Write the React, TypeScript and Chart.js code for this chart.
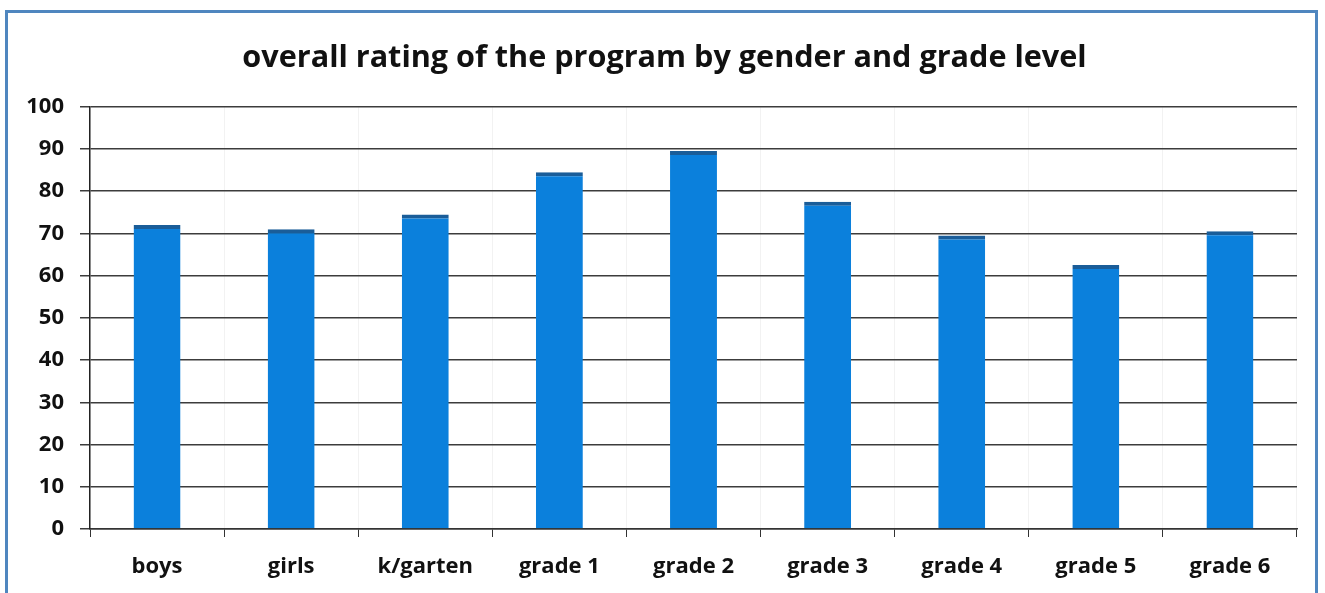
import React, { useEffect, useRef } from "react";
import { Chart, registerables } from "chart.js";

Chart.register(...registerables);

const categories = ["boys", "girls", "k/garten", "grade 1", "grade 2", "grade 3", "grade 4", "grade 5", "grade 6"];
const ratings = [72, 71, 74.5, 84.5, 89.5, 77.5, 69.5, 62.5, 70.5];
const yTicks = [0, 10, 20, 30, 40, 50, 60, 70, 80, 90, 100];
const chartTitle = "overall rating of the program by gender and grade level";

const FONT = "'Open Sans', 'Liberation Sans', sans-serif";

// nudges the title block so it is centred on the framed area rather than the padded canvas
const titleOffset = {
  id: "titleOffset",
  afterLayout(chart: any) {
    const t = chart.titleBlock;
    if (t) {
      t.left += 12;
      t.right += 12;
    }
  },
};

export default function App() {
  const canvasRef = useRef<HTMLCanvasElement | null>(null);

  useEffect(() => {
    const canvas = canvasRef.current;
    if (!canvas) return;
    const chart = new Chart(canvas, {
      type: "bar",
      data: {
        labels: categories,
        datasets: [
          {
            data: ratings,
            backgroundColor: "#0b80dc",
            borderColor: "#1a5d99",
            borderWidth: { top: 4, left: 0, right: 0, bottom: 0 },
            borderSkipped: "start",
            barPercentage: 0.35,
            categoryPercentage: 1,
          },
        ],
      },
      plugins: [titleOffset],
      options: {
        animation: false,
        responsive: false,
        maintainAspectRatio: false,
        layout: { padding: { left: 8, right: 28, top: 0, bottom: 0 } },
        plugins: {
          legend: { display: false },
          tooltip: { enabled: false },
          title: {
            display: true,
            text: chartTitle,
            color: "#111",
            font: { family: FONT, size: 30.6, weight: "bold", lineHeight: 1.2 },
            padding: { top: 40, bottom: 30 },
          },
        },
        scales: {
          x: {
            grid: {
              offset: true,
              drawOnChartArea: true,
              color: "rgba(0,0,0,0.05)",
              tickColor: "#333",
              tickLength: 8,
              lineWidth: 1,
            },
            border: { display: true, color: "#333", width: 1.5 },
            ticks: {
              color: "#111",
              padding: 17,
              font: { family: FONT, size: 22, weight: "bold" },
            },
            afterFit: (scale: any) => {
              scale.height = 64;
            },
          },
          y: {
            min: 0,
            max: 100,
            afterBuildTicks: (scale: any) => {
              scale.ticks = yTicks.map((v) => ({ value: v }));
            },
            grid: {
              color: "#3c3c3c",
              tickColor: "#3c3c3c",
              tickLength: 10,
              lineWidth: 1.5,
            },
            border: { display: true, color: "#222", width: 1.5 },
            ticks: {
              color: "#111",
              padding: 16,
              font: { family: FONT, size: 22, weight: "bold" },
            },
            afterFit: (scale: any) => {
              scale.width = 82;
            },
          },
        },
      },
    });
    return () => chart.destroy();
  }, []);

  return (
    <div style={{ position: "fixed", left: 0, top: 0, width: 1325, height: 593, background: "#fff", overflow: "hidden" }}>
      <div
        style={{
          position: "absolute",
          left: 5,
          top: 10,
          width: 1313,
          height: 600,
          border: "3px solid #4f86bf",
          boxSizing: "border-box",
        }}
      />
      <canvas ref={canvasRef} width={1325} height={593} style={{ position: "absolute", left: 0, top: 0 }} />
    </div>
  );
}
